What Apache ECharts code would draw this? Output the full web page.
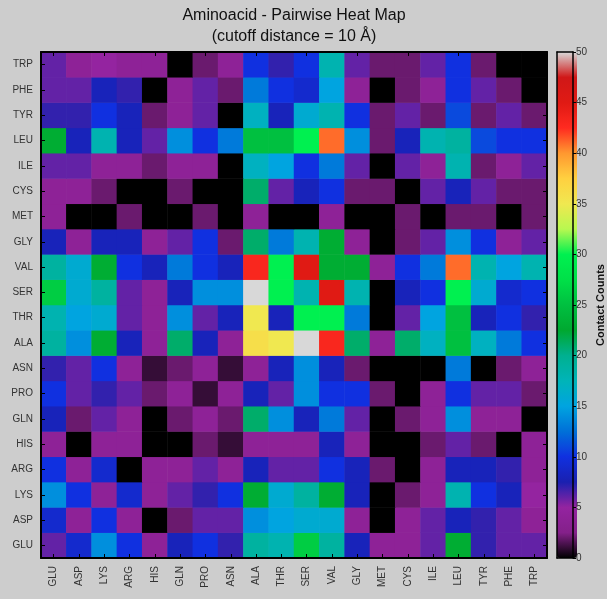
<!DOCTYPE html>
<html><head><meta charset="utf-8">
<script src="https://cdn.jsdelivr.net/npm/echarts@6/dist/echarts.min.js"></script>
<style>html,body{margin:0;padding:0;background:#cdcdcd;}#c{width:607px;height:599px;}</style>
</head><body><div id="c"></div>
<script>
// Categories (x left->right, y bottom->top)
const aminoAcids = ['GLU','ASP','LYS','ARG','HIS','GLN','PRO','ASN','ALA','THR','SER','VAL','GLY','MET','CYS','ILE','LEU','TYR','PHE','TRP'];

// Contact counts per row, columns in aminoAcids order
const rowTRP = [6,4,5,4,4,0,2,4,10,7,10,18,6,2,2,6,10,2,0,0];
const rowPHE = [6,6,8,7,0,4,6,2,13,10,9,15,4,0,2,4,10,6,2,0];
const rowTYR = [7,7,10,8,2,4,6,0,17,8,16,18,10,2,6,2,11,2,6,2];
const rowLEU = [23,8,18,8,6,14,10,13,25,25,30,41,14,2,8,18,19,11,10,10];
const rowILE = [6,6,4,4,2,4,4,0,17,15,10,13,6,0,6,4,18,2,4,6];
const rowCYS = [4,4,2,0,0,2,0,0,21,6,8,10,2,2,0,6,8,6,2,2];
const rowMET = [4,0,0,2,0,0,2,0,4,0,0,4,0,0,2,0,2,2,0,2];
const rowGLY = [8,4,8,8,4,6,10,2,21,13,18,23,4,0,2,6,14,10,4,6];
const rowVAL = [19,16,23,10,8,13,10,8,43,30,45,23,23,4,10,13,41,18,15,18];
const rowSER = [26,16,19,6,4,8,14,14,50,30,18,45,18,0,8,10,30,16,9,10];
const rowTHR = [18,15,16,6,4,14,6,8,35,8,30,30,13,0,6,15,25,8,10,7];
const rowALA = [19,14,23,8,4,21,8,4,36,35,50,43,21,4,21,17,25,17,13,10];
const rowASN = [7,6,10,4,1,2,4,1,4,8,14,8,2,0,0,0,13,0,2,4];
const rowPRO = [10,6,7,6,2,4,1,4,8,6,14,10,10,2,0,4,10,6,6,2];
const rowGLN = [8,2,6,4,0,2,4,2,21,14,8,13,6,0,2,4,14,4,4,0];
const rowHIS = [4,0,4,4,0,0,2,1,4,4,4,8,4,0,0,2,6,2,0,4];
const rowARG = [10,4,9,0,4,4,6,4,8,6,6,10,8,2,0,4,8,8,7,4];
const rowLYS = [14,10,4,9,4,6,7,10,23,16,19,23,8,0,2,4,18,10,8,5];
const rowASP = [9,4,10,4,0,2,6,6,14,15,16,16,4,0,4,6,8,7,6,4];
const rowGLU = [6,9,14,10,4,8,10,7,19,18,26,19,8,4,4,6,23,7,6,6];

// rows ordered bottom -> top (same order as aminoAcids)
const rowsBottomToTop = [rowGLU,rowASP,rowLYS,rowARG,rowHIS,rowGLN,rowPRO,rowASN,rowALA,rowTHR,rowSER,rowVAL,rowGLY,rowMET,rowCYS,rowILE,rowLEU,rowTYR,rowPHE,rowTRP];

const colorMin = 0, colorMax = 50, colorTickStep = 5;

// nipy_spectral-like colormap stops
const cmap = ['#000000','#84208a','#9424a0','#1a20b0','#1030e0','#0070d8','#00a4e0','#00b4b8','#00b090','#00a830','#00c040','#00e048','#00f050','#b8f850','#f0e850','#ffd040','#ff9830','#ff2a20','#e01a14','#d01818','#d8d8d8'];

const data = [];
rowsBottomToTop.forEach((row, yi) => row.forEach((v, xi) => data.push([xi, yi, v])));

const FONT = 'Liberation Sans, Arial, sans-serif';
const chart = echarts.init(document.getElementById('c'), null, {renderer: 'canvas'});

const catAxisBase = (pos, showLabel, extra) => Object.assign({
  type: 'category', data: aminoAcids, gridIndex: 0, position: pos, z: 10,
  axisLine: {show: true, lineStyle: {color: '#000', width: 2}},
  axisTick: {show: true, inside: true, alignWithLabel: true, length: 4, lineStyle: {color: '#000', width: 1}},
  axisLabel: {show: showLabel, fontSize: 10, color: '#333', fontFamily: FONT, margin: 8},
  splitLine: {show: false}
}, extra || {});

chart.setOption({
  backgroundColor: '#cdcdcd',
  animation: false,
  title: {
    text: 'Aminoacid - Pairwise Heat Map\n(cutoff distance = 10 Å)',
    left: 294, top: 5, textAlign: 'center', padding: 0,
    textStyle: {fontSize: 16, fontWeight: 'normal', color: '#111', fontFamily: FONT, lineHeight: 21}
  },
  grid: [
    {left: 41, top: 52, width: 506, height: 506},
    {left: 557, top: 52, width: 20, height: 506}
  ],
  xAxis: [
    catAxisBase('bottom', true, {axisLabel: {show: true, rotate: 90, fontSize: 10, color: '#333', fontFamily: FONT, margin: 8}}),
    catAxisBase('top', false),
    {type: 'value', gridIndex: 1, min: 0, max: 1, position: 'bottom', z: 10, axisLine: {show: true, onZero: false, lineStyle: {color: '#000', width: 1.5}}, axisTick: {show: false}, axisLabel: {show: false}, splitLine: {show: false}},
    {type: 'value', gridIndex: 1, min: 0, max: 1, position: 'top', z: 10, axisLine: {show: true, onZero: false, lineStyle: {color: '#000', width: 1.5}}, axisTick: {show: false}, axisLabel: {show: false}, splitLine: {show: false}}
  ],
  yAxis: [
    catAxisBase('left', true),
    catAxisBase('right', false),
    {type: 'value', gridIndex: 1, min: colorMin, max: colorMax, interval: colorTickStep, position: 'right', z: 10,
      axisLine: {show: true, onZero: false, lineStyle: {color: '#000', width: 1.5}},
      axisTick: {show: true, inside: false, length: 3, lineStyle: {color: '#000'}},
      axisLabel: {show: true, fontSize: 10, color: '#333', fontFamily: FONT, margin: 3},
      splitLine: {show: false},
      name: 'Contact Counts', nameLocation: 'middle', nameRotate: 90, nameGap: 22,
      nameTextStyle: {fontSize: 11, fontWeight: 'bold', color: '#111', fontFamily: FONT}},
    {type: 'value', gridIndex: 1, min: colorMin, max: colorMax, position: 'left', z: 10,
      axisLine: {show: true, onZero: false, lineStyle: {color: '#000', width: 1.5}},
      axisTick: {show: false}, axisLabel: {show: false}, splitLine: {show: false}}
  ],
  visualMap: {
    type: 'continuous', min: colorMin, max: colorMax, calculable: false, realtime: false,
    orient: 'vertical', left: 557, top: 52, itemWidth: 20, itemHeight: 506, padding: 0,
    text: null, showLabel: false, z: 1,
    inRange: {color: cmap}, seriesIndex: 0
  },
  series: [{
    type: 'heatmap', xAxisIndex: 0, yAxisIndex: 0, data: data,
    itemStyle: {borderWidth: 0}, emphasis: {disabled: true}, progressive: 0
  }]
});
</script></body></html>
